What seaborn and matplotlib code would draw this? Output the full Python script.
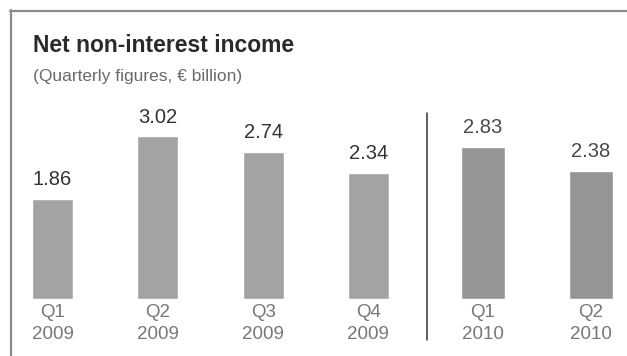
import matplotlib
matplotlib.use("Agg")
import matplotlib.pyplot as plt
import seaborn as sns
import pandas as pd
from matplotlib.lines import Line2D

# Quarterly net non-interest income, EUR billion
quarters_2009 = ["Q1", "Q2", "Q3", "Q4"]
values_2009 = [1.86, 3.02, 2.74, 2.34]
quarters_2010 = ["Q1", "Q2"]
values_2010 = [2.83, 2.38]

title = "Net non-interest income"
subtitle = "(Quarterly figures, \u20ac billion)"

sns.set_theme(style="white")
plt.rcParams["font.family"] = ["Liberation Sans Narrow", "Liberation Sans", "DejaVu Sans"]

W, H = 627, 356
fig = plt.figure(figsize=(W / 100, H / 100), dpi=100)
fig.patch.set_facecolor("white")

def px_box(x0, x1, ytop, ybot):
    return [x0 / W, 1 - ybot / H, (x1 - x0) / W, (ybot - ytop) / H]

ymax = 3.70
ax1 = fig.add_axes(px_box(0, 421, 100, 298.5))
ax2 = fig.add_axes(px_box(429, 623.4, 100, 298.5))

panels = [
    (ax1, quarters_2009, values_2009, "2009", "#a3a3a3", "#333333", (-0.5, 3.5), 0.39),
    (ax2, quarters_2010, values_2010, "2010", "#959595", "#4a4a4a", (-0.5, 1.3), 0.40),
]

for ax, qs, vals, year, color, txt, xlim, width in panels:
    df = pd.DataFrame({"quarter": [f"{q}\n{year}" for q in qs], "value": vals})
    sns.barplot(data=df, x="quarter", y="value", color=color, width=width,
                saturation=1, ax=ax, errorbar=None)
    ax.bar_label(ax.containers[0], labels=[f"{v:.2f}" for v in vals],
                 padding=7, fontsize=14.5, color=txt)
    ax.set_xlim(*xlim)
    ax.set_ylim(0, ymax)
    ax.set_xlabel("")
    ax.set_ylabel("")
    ax.set_yticks([])
    ax.tick_params(axis="x", length=0, pad=4, labelsize=13.5, labelcolor="#777777")
    for lab in ax.get_xticklabels():
        lab.set_linespacing(1.35)
    for s in ax.spines.values():
        s.set_visible(False)
    ax.patch.set_alpha(0)

# outer frame: top and left edges
fig.add_artist(Line2D([10.5 / W, 10.5 / W], [0, 1 - 10 / H], color="#8a8a8a", lw=1.6))
fig.add_artist(Line2D([10 / W, 1], [1 - 10.5 / H, 1 - 10.5 / H], color="#8a8a8a", lw=1.6))

# divider between 2009 and 2010
fig.add_artist(Line2D([427 / W, 427 / W], [1 - 340 / H, 1 - 113 / H], color="#333333", lw=1.1))

fig.text(33 / W, 1 - 52 / H, title, fontsize=16.5, fontweight="bold", color="#2a2a2a",
         ha="left", va="baseline")
fig.text(33 / W, 1 - 81 / H, subtitle, fontsize=12.5, color="#6a6a6a",
         ha="left", va="baseline")

fig.savefig("out.png", dpi=100, facecolor="white")
